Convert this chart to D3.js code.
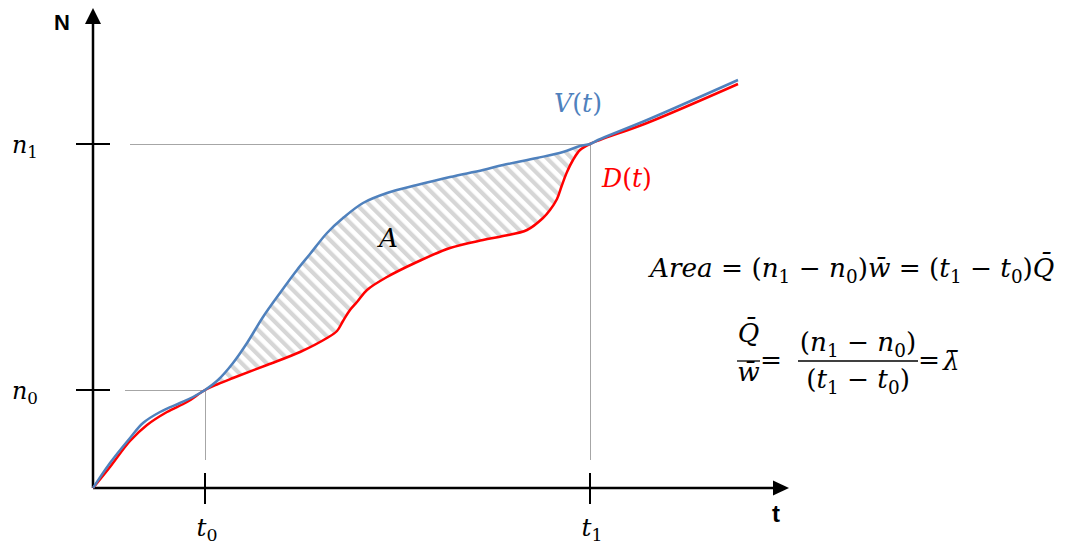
<!DOCTYPE html>
<html><head><meta charset="utf-8">
<script src="https://cdn.jsdelivr.net/npm/d3@7"></script>
<style>html,body{margin:0;padding:0;background:#fff;} svg{display:block}</style>
</head><body>
<svg id="chart" width="1066" height="546"></svg>
<script>
// ---- data ----
const vT = [0, 1.7, 3.7, 5.0, 6.7, 8.7, 10.0, 11.2, 12.5, 14.0, 15.4, 17.0, 18.7, 20.4, 21.7, 23.4, 25.0, 27.0, 29.4, 32.4, 35.7, 39.0, 41.0, 44.4, 47.0, 48.7, 49.7, 50.5, 55.4, 64.5];
const vN = [0, 2.5, 5.0, 6.5, 7.6, 8.5, 9.1, 9.8, 10.8, 12.5, 14.5, 17.1, 19.5, 21.8, 23.4, 25.5, 27.0, 28.5, 29.5, 30.3, 31.1, 31.8, 32.3, 33.0, 33.6, 34.2, 34.4, 34.8, 36.8, 40.8];
const dT = [0, 1.7, 3.7, 5.4, 7.4, 9.4, 11.2, 12.5, 14.0, 17.4, 20.7, 23.4, 24.4, 25.0, 25.7, 26.4, 27.4, 29.4, 32.4, 35.7, 39.0, 41.0, 43.4, 45.0, 45.7, 46.4, 46.9, 47.4, 48.0, 48.7, 49.7, 55.4, 64.5];
const dN = [0, 2.1, 4.7, 6.3, 7.6, 8.6, 9.8, 10.4, 11.0, 12.3, 13.6, 15.0, 15.7, 16.7, 17.8, 18.6, 19.8, 21.1, 22.6, 24.0, 24.8, 25.2, 25.8, 27.0, 27.8, 28.9, 30.3, 31.6, 32.8, 33.8, 34.4, 36.5, 40.4];
const xTicks = [11.2, 49.7];      // t0, t1
const xTickSubs = ["0", "1"];
const yTicks = [9.8, 34.4];       // n0, n1
const yTickSubs = ["0", "1"];
const xAxisLabel = "t", yAxisLabel = "N";
const vLabel = "V", dLabel = "D", areaLabel = "A";

// ---- setup ----
const svg = d3.select("#chart");
const x = d3.scaleLinear().domain([0, 70]).range([93, 793]);
const y = d3.scaleLinear().domain([0, 48]).range([488, 8]);
const MF = "'DejaVu Serif', serif";
const BLUE = "#4f81bd", RED = "#ff0000", GRID = "#a6a6a6";

const defs = svg.append("defs");
defs.append("pattern").attr("id", "hatch").attr("patternUnits", "userSpaceOnUse")
  .attr("width", 8.8).attr("height", 8.8).attr("patternTransform", "rotate(-45)")
  .append("rect").attr("width", 4.2).attr("height", 8.8).attr("fill", "#d6d6d6");

const vPts = d3.zip(vT, vN), dPts = d3.zip(dT, dN);
const line = d3.line().x(d => x(d[0])).y(d => y(d[1])).curve(d3.curveCatmullRom.alpha(0.5));
const [t0, t1] = xTicks, [n0, n1] = yTicks;

// hatched area
const vSeg = vPts.filter(p => p[0] >= t0 && p[0] <= t1);
const dSeg = dPts.filter(p => p[0] >= t0 && p[0] <= t1).reverse();
svg.append("path").attr("d", line(vSeg) + "L" + line(dSeg).slice(1) + "Z").attr("fill", "url(#hatch)");

// guide lines
const g = svg.append("g").attr("stroke", GRID).attr("stroke-width", 1).attr("shape-rendering", "crispEdges");
g.append("line").attr("x1", 125).attr("x2", x(t0)).attr("y1", y(n0) + 0.5).attr("y2", y(n0) + 0.5);
g.append("line").attr("x1", x(t0) + 0.5).attr("x2", x(t0) + 0.5).attr("y1", y(n0)).attr("y2", 460);
g.append("line").attr("x1", 130).attr("x2", x(t1)).attr("y1", y(n1) + 0.5).attr("y2", y(n1) + 0.5);
g.append("line").attr("x1", x(t1) + 0.5).attr("x2", x(t1) + 0.5).attr("y1", y(n1)).attr("y2", 460);

// axes
svg.append("line").attr("x1", x(0)).attr("x2", 775).attr("y1", y(0)).attr("y2", y(0)).attr("stroke", "#000").attr("stroke-width", 2.5);
svg.append("path").attr("d", `M789,${y(0)}L773,${y(0) - 7.5}L773,${y(0) + 7.5}Z`).attr("fill", "#000");
svg.append("line").attr("x1", x(0)).attr("x2", x(0)).attr("y1", y(0)).attr("y2", 22).attr("stroke", "#000").attr("stroke-width", 2.5);
svg.append("path").attr("d", `M${x(0)},8L${x(0) - 8},24L${x(0) + 8},24Z`).attr("fill", "#000");

// ticks
yTicks.forEach(v => svg.append("line").attr("x1", x(0) - 17).attr("x2", x(0) + 17).attr("y1", y(v)).attr("y2", y(v)).attr("stroke", "#000").attr("stroke-width", 2));
xTicks.forEach(v => svg.append("line").attr("x1", x(v)).attr("x2", x(v)).attr("y1", y(0) - 15).attr("y2", y(0) + 16).attr("stroke", "#000").attr("stroke-width", 2));

// curves
svg.append("path").attr("d", line(dPts)).attr("fill", "none").attr("stroke", RED).attr("stroke-width", 2.5);
svg.append("path").attr("d", line(vPts)).attr("fill", "none").attr("stroke", BLUE).attr("stroke-width", 2.5);

// ---- math text helper ----
function mtext(x0, y0, toks, fs, anchor, color, targetW) {
  const t = svg.append("text").attr("x", x0).attr("y", y0).attr("font-family", MF)
    .attr("font-size", fs).attr("text-anchor", anchor || "start").attr("fill", color || "#000");
  let down = false;
  toks.forEach(([k, s]) => {
    const ts = t.append("tspan").text(s);
    if (k === "i") ts.attr("font-style", "italic");
    if (k === "s") { ts.attr("font-size", "0.7em"); if (!down) { ts.attr("dy", "0.3em"); down = true; } }
    else if (down) { ts.attr("dy", "-0.21em"); down = false; }
  });
  if (targetW) {
    const w = t.node().getBBox().width;
    t.attr("font-size", fs * targetW / w);
  }
  return t;
}

// axis titles
svg.append("text").attr("x", 54).attr("y", 30).text(yAxisLabel).attr("font-family", "'Liberation Sans', Arial, sans-serif").attr("font-weight", "bold").attr("font-size", 22);
svg.append("text").attr("x", 772).attr("y", 522).text(xAxisLabel).attr("font-family", "'Liberation Sans', Arial, sans-serif").attr("font-weight", "bold").attr("font-size", 24);

// tick labels
yTicks.forEach((v, i) => mtext(12, y(v) + 9, [["i", "n"], ["s", yTickSubs[i]]], 24, "start", "#000", 26));
xTicks.forEach((v, i) => mtext(x(v) + 2, 536, [["i", "t"], ["s", xTickSubs[i]]], 24, "middle", "#000", 21));

// curve labels
mtext(554, 112, [["i", vLabel], ["r", "("], ["i", "t"], ["r", ")"]], 24, "start", BLUE, 48);
mtext(602, 187, [["i", dLabel], ["r", "("], ["i", "t"], ["r", ")"]], 24, "start", RED, 51);

// equations
const eq1 = mtext(650, 277, [["i", "Area"], ["r", " = ("], ["i", "n"], ["s", "1"], ["r", " − "], ["i", "n"], ["s", "0"], ["r", ")"], ["i", "w\u0304"],
  ["r", " = ("], ["i", "t"], ["s", "1"], ["r", " − "], ["i", "t"], ["s", "0"], ["r", ")"], ["i", "Q\u0304"]], 22, "start", "#000", 407);
const fs = +eq1.attr("font-size");
mtext(379, 247, [["i", areaLabel]], fs, "start");
const barY = 361;
mtext(748.5, 342, [["i", "Q\u0304"]], fs, "middle");
mtext(748.5, 381, [["i", "w\u0304"]], fs, "middle");
svg.append("line").attr("x1", 737).attr("x2", 760).attr("y1", barY).attr("y2", barY).attr("stroke", "#000").attr("stroke-width", 1.3);
mtext(771, 369, [["r", "="]], fs, "middle");
mtext(858, 351, [["r", "("], ["i", "n"], ["s", "1"], ["r", " − "], ["i", "n"], ["s", "0"], ["r", ")"]], fs, "middle");
mtext(858, 388, [["r", "("], ["i", "t"], ["s", "1"], ["r", " − "], ["i", "t"], ["s", "0"], ["r", ")"]], fs, "middle");
svg.append("line").attr("x1", 798).attr("x2", 918).attr("y1", barY).attr("y2", barY).attr("stroke", "#000").attr("stroke-width", 1.3);
mtext(929, 369, [["r", "="]], fs, "middle");
mtext(943, 370, [["i", "\u03BB\u0304"]], fs, "start");
</script>
</body></html>
